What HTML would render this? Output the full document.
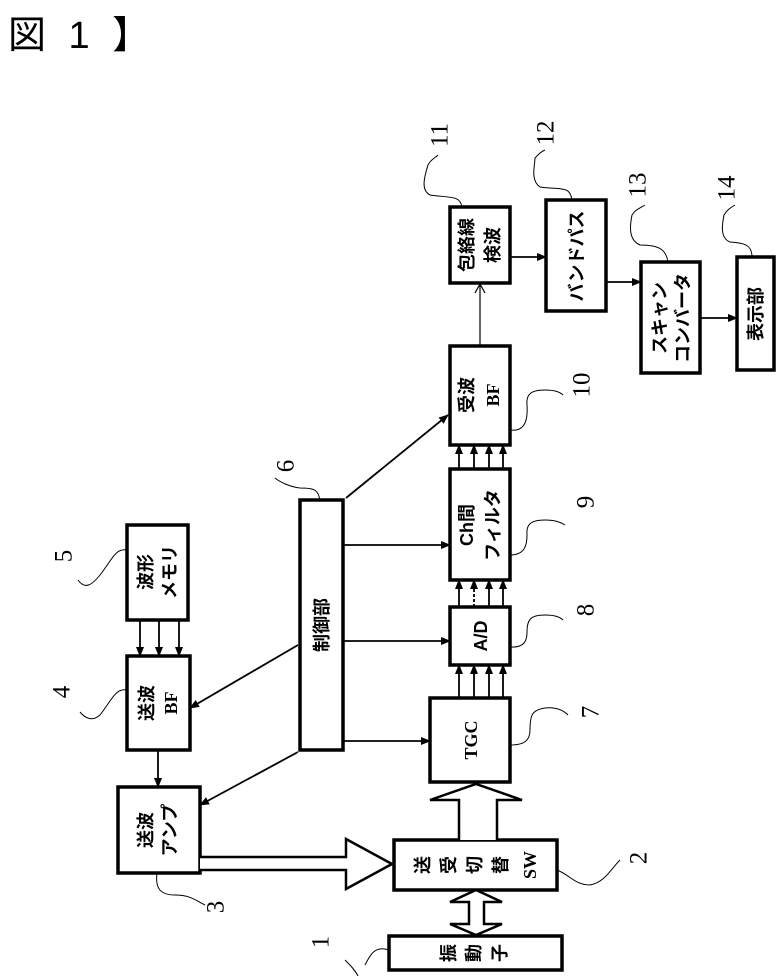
<!DOCTYPE html>
<html><head><meta charset="utf-8"><style>
html,body{margin:0;padding:0;background:#fff;}
svg{display:block;}
text{font-family:"Liberation Sans","Noto Sans CJK JP",sans-serif;fill:#000;}
.n text{font-family:"Liberation Serif","Noto Serif CJK SC",serif;font-size:25px;}
.s{font-family:"Liberation Serif",serif !important;font-weight:normal;}
.l text{font-weight:bold;}
</style></head><body>
<svg width="781" height="976" viewBox="0 0 781 976" xmlns="http://www.w3.org/2000/svg">
<defs>
<marker id="a" markerWidth="10" markerHeight="10" refX="9" refY="5" orient="auto" markerUnits="userSpaceOnUse">
<path d="M0,1 L10,5 L0,9 Z" fill="#000"/></marker>
<marker id="o" markerWidth="10" markerHeight="12" refX="9" refY="6" orient="auto" markerUnits="userSpaceOnUse">
<path d="M0,1 L9,6 L0,11" fill="none" stroke="#000" stroke-width="1.2"/></marker>
</defs>
<text x="8" y="48" style="font-size:38px;letter-spacing:6px">図 1 】</text>

<g fill="none" stroke="#000" stroke-width="3.5">
<rect x="450" y="207" width="60" height="76"/>
<rect x="546" y="200" width="60" height="111"/>
<rect x="641" y="262" width="59" height="111"/>
<rect x="737" y="257" width="37" height="113"/>
<rect x="450" y="346" width="60" height="99"/>
<rect x="450" y="469" width="60" height="111"/>
<rect x="450" y="607" width="60" height="58"/>
<rect x="430" y="698" width="80" height="84"/>
<rect x="394" y="840" width="163" height="50"/>
<rect x="389" y="936" width="173" height="34"/>
<rect x="300" y="500" width="43" height="250"/>
<rect x="127" y="525" width="61" height="95"/>
<rect x="127" y="656" width="63" height="94"/>
<rect x="118" y="787" width="82" height="86"/>
</g>

<g stroke="#000" stroke-width="1.8" fill="none">
<line x1="140" y1="620" x2="140" y2="656" marker-end="url(#a)"/>
<line x1="159" y1="620" x2="159" y2="656" marker-end="url(#a)"/>
<line x1="179" y1="620" x2="179" y2="656" marker-end="url(#a)"/>
<line x1="158" y1="750" x2="158" y2="787" marker-end="url(#a)"/>
<line x1="298" y1="645" x2="190" y2="708" marker-end="url(#a)"/>
<line x1="298" y1="752" x2="200" y2="805" marker-end="url(#a)"/>
<line x1="343" y1="741" x2="430" y2="741" marker-end="url(#a)"/>
<line x1="343" y1="641" x2="450" y2="641" marker-end="url(#a)"/>
<line x1="343" y1="545" x2="450" y2="545" marker-end="url(#a)"/>
<line x1="346" y1="498" x2="448" y2="415" marker-end="url(#a)"/>
<line x1="459" y1="698" x2="459" y2="665" marker-end="url(#a)"/>
<line x1="474" y1="698" x2="474" y2="665" marker-end="url(#a)"/>
<line x1="489" y1="698" x2="489" y2="665" marker-end="url(#a)"/>
<line x1="503" y1="698" x2="503" y2="665" marker-end="url(#a)"/>
<line x1="459" y1="607" x2="459" y2="580" marker-end="url(#a)"/>
<line x1="474" y1="607" x2="474" y2="580" marker-end="url(#a)" stroke-dasharray="3,2"/>
<line x1="489" y1="607" x2="489" y2="580" marker-end="url(#a)"/>
<line x1="503" y1="607" x2="503" y2="580" marker-end="url(#a)"/>
<line x1="459" y1="469" x2="459" y2="445" marker-end="url(#a)"/>
<line x1="474" y1="469" x2="474" y2="445" marker-end="url(#a)"/>
<line x1="489" y1="469" x2="489" y2="445" marker-end="url(#a)"/>
<line x1="503" y1="469" x2="503" y2="445" marker-end="url(#a)"/>
<line x1="480" y1="346" x2="480" y2="284" marker-end="url(#o)" stroke-width="1.2"/>
<line x1="510" y1="257" x2="546" y2="257" marker-end="url(#a)"/>
<line x1="606" y1="282" x2="641" y2="282" marker-end="url(#a)"/>
<line x1="700" y1="318" x2="737" y2="318" marker-end="url(#a)"/>
</g>

<g stroke="#000" stroke-width="2.5" fill="#fff" stroke-linejoin="miter">
<path d="M200,857 L346,857 L346,839 L392,864 L346,889 L346,870 L200,870"/>
<path d="M459,840 L459,800 L430,800 L476,784 L522,800 L497,800 L497,840"/>
<path d="M476,890 L450,902 L469,902 L469,924 L450,924 L476,935 L502,924 L484,924 L484,902 L502,902 Z"/>
</g>

<g class="l" style="font-size:18px" text-anchor="middle" dominant-baseline="central">
<text transform="translate(467,245) rotate(-90)">包絡線</text>
<text transform="translate(493,245) rotate(-90)">検波</text>
<text transform="translate(577,256) rotate(-90)">バンドパス</text>
<text transform="translate(660,318) rotate(-90)">スキャン</text>
<text transform="translate(683,318) rotate(-90)">コンバータ</text>
<text transform="translate(756,314) rotate(-90)">表示部</text>
<text transform="translate(467,395) rotate(-90)">受波</text>
<text class="s" transform="translate(493,395) rotate(-90)">BF</text>
<text transform="translate(467,525) rotate(-90)">Ch間</text>
<text transform="translate(493,525) rotate(-90)">フィルタ</text>
<text transform="translate(481,636) rotate(-90)">A/D</text>
<text class="s" transform="translate(471,740) rotate(-90)">TGC</text>
<text transform="translate(322,625) rotate(-90)">制御部</text>
<text transform="translate(146,572) rotate(-90)">波形</text>
<text transform="translate(170,572) rotate(-90)">メモリ</text>
<text transform="translate(147,703) rotate(-90)">送波</text>
<text class="s" transform="translate(171,703) rotate(-90)">BF</text>
<text transform="translate(146,830) rotate(-90)">送波</text>
<text transform="translate(170,830) rotate(-90)">アンプ</text>
<text transform="translate(423,865) rotate(-90)">送</text>
<text transform="translate(449,865) rotate(-90)">受</text>
<text transform="translate(475,865) rotate(-90)">切</text>
<text transform="translate(501,865) rotate(-90)">替</text>
<text class="s" transform="translate(530,865) rotate(-90)">SW</text>
<text transform="translate(449,953) rotate(-90)">振</text>
<text transform="translate(474,953) rotate(-90)">動</text>
<text transform="translate(500,953) rotate(-90)">子</text>
</g>

<g class="n" text-anchor="middle" dominant-baseline="central">
<text transform="translate(440,135) rotate(-90)">11</text>
<text transform="translate(546,133) rotate(-90)">12</text>
<text transform="translate(638,185) rotate(-90)">13</text>
<text transform="translate(727,188) rotate(-90)">14</text>
<text transform="translate(582,385) rotate(-90)">10</text>
<text transform="translate(586,502) rotate(-90)">9</text>
<text transform="translate(586,610) rotate(-90)">8</text>
<text transform="translate(591,712) rotate(-90)">7</text>
<text transform="translate(286,466) rotate(-90)">6</text>
<text transform="translate(64,556) rotate(-90)">5</text>
<text transform="translate(62,692) rotate(-90)">4</text>
<text transform="translate(216,907) rotate(-90)">3</text>
<text transform="translate(639,858) rotate(-90)">2</text>
<text transform="translate(321,942) rotate(-90)">1</text>
</g>

<g stroke="#000" stroke-width="1" fill="none">
<path d="M462,207 C460,195 450,198 430,195 C420,190 425,175 428,165 C430,160 435,158 438,155"/>
<path d="M572,200 C570,185 560,190 540,187 C530,180 535,165 535,158 C538,155 540,152 545,150"/>
<path d="M668,262 C666,250 660,245 640,245 C628,240 630,225 632,215 C635,210 640,208 645,205"/>
<path d="M752,257 C752,245 745,243 730,242 C720,238 722,225 724,215 C727,210 730,208 735,205"/>
<path d="M510,430 C525,432 528,420 527,405 C526,395 530,390 545,390 C555,390 560,392 563,395"/>
<path d="M510,555 C525,555 527,545 527,535 C526,525 530,520 545,520 C555,520 560,522 565,525"/>
<path d="M510,647 C525,648 527,640 527,632 C527,620 530,615 545,615 C555,615 560,617 563,620"/>
<path d="M510,745 C525,745 530,740 530,730 C530,715 532,710 545,708 C555,707 563,710 568,715"/>
<path d="M320,500 C318,490 315,488 300,488 C290,487 280,482 275,478"/>
<path d="M127,550 C115,548 112,560 100,575 C92,585 85,590 78,580"/>
<path d="M127,690 C115,688 112,700 100,715 C92,722 85,718 80,712"/>
<path d="M157,873 C155,888 160,895 175,895 C190,895 195,900 205,905"/>
<path d="M557,870 C570,875 575,885 590,885 C605,882 610,870 620,860"/>
<path d="M389,950 C375,945 370,955 365,965 M345,960 C350,965 355,970 358,976"/>
</g>
</svg>
</body></html>
